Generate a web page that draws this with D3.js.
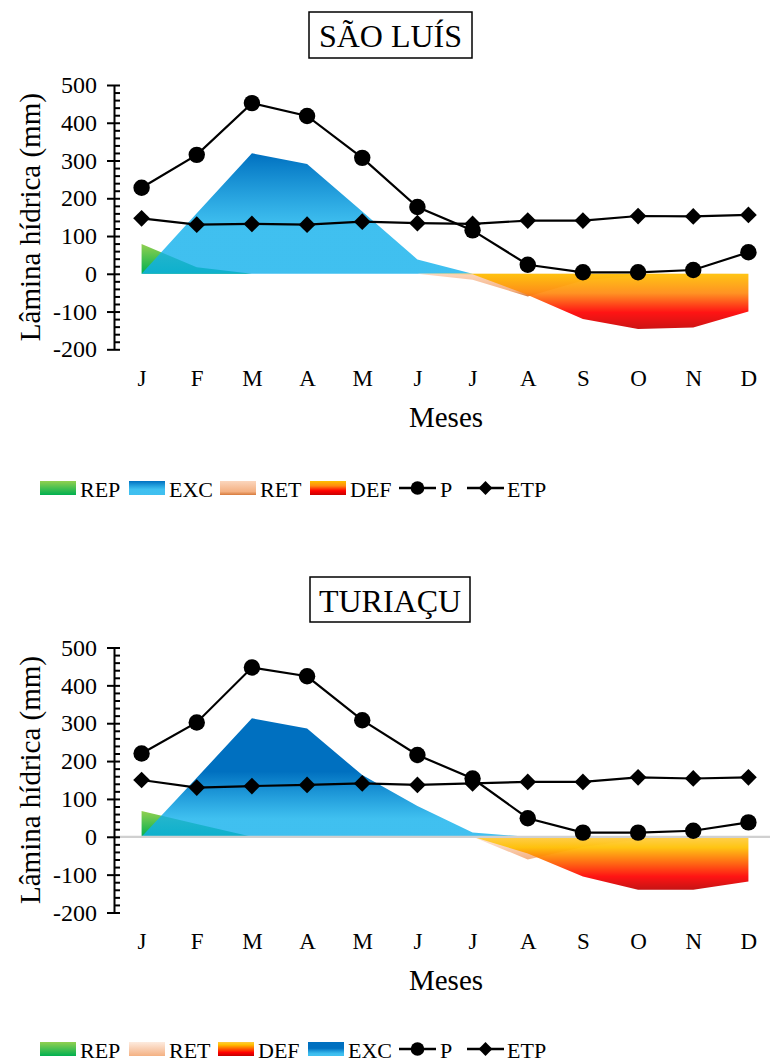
<!DOCTYPE html>
<html>
<head>
<meta charset="utf-8">
<script src="https://cdn.jsdelivr.net/npm/d3@7"></script>
<style>
  html, body { margin: 0; padding: 0; background: #fff; }
  svg { display: block; }
  text { font-family: "Liberation Serif", "Times New Roman", serif; fill: #000; }
</style>
</head>
<body>
<svg id="chart" width="770" height="1064"></svg>
<script>
// Month initials (x categories)
const months = ["J", "F", "M", "A", "M", "J", "J", "A", "S", "O", "N", "D"];
const yMajor = [500, 400, 300, 200, 100, 0, -100, -200];
const yMinor = d3.range(-200, 501, 20);

// São Luís water balance (mm)
const slP   = [228, 315, 452, 418, 307, 177, 115, 24, 4, 4, 10, 57];
const slETP = [147, 130, 132, 130, 138, 134, 132, 141, 141, 153, 152, 156];
const slREP = [79, 17, 0, 0, 0, 0, 0, 0, 0, 0, 0, 0];
const slEXC = [0, 160, 319, 291, 165, 38, 0, 0, 0, 0, 0, 0];
const slRET = [0, 0, 0, 0, 0, 0, -16, -60, -18, -4, -1, 0];
const slDEF = [0, 0, 0, 0, 0, 0, -1, -56, -120, -146, -142, -100];

// Turiaçu water balance (mm)
const tuP   = [220, 302, 447, 424, 308, 216, 154, 49, 11, 11, 16, 38];
const tuETP = [150, 130, 134, 137, 141, 137, 141, 145, 145, 157, 154, 157];
const tuREP = [68, 34, 0, 0, 0, 0, 0, 0, 0, 0, 0, 0];
const tuEXC = [0, 156, 313, 286, 163, 81, 11, 0, 0, 0, 0, 0];
const tuRET = [0, 0, 0, 0, 0, 0, 0, -60, -27, -7, -2, 0];
const tuDEF = [0, 0, 0, 0, 0, 0, 0, -44, -105, -140, -140, -118];

const svg = d3.select("#chart");
const defs = svg.append("defs");

function gradient(id, stops) {
  const g = defs.append("linearGradient").attr("id", id)
    .attr("x1", 0).attr("y1", 0).attr("x2", 0).attr("y2", 1);
  stops.forEach(s => g.append("stop")
    .attr("offset", s[0]).attr("stop-color", s[1])
    .attr("stop-opacity", s[2] === undefined ? 1 : s[2]));
}

gradient("rep", [[0, "#92d050"], [1, "#00b050"]]);
gradient("exc1", [[0, "#0070c0"], [0.6, "#10b0ec", 0.8], [1, "#10b0ec", 0.8]]);
gradient("exc2", [[0, "#0070c0"], [0.45, "#0070c0"], [0.85, "#10b0ec", 0.8], [1, "#10b0ec", 0.8]]);
gradient("ret1", [[0, "#fbd6bd"], [0.75, "#f4b183"], [1, "#d67a3c"]]);
gradient("ret2", [[0, "#fdebdf"], [1, "#f4b183"]]);
gradient("def1", [[0, "#ffc000"], [0.35, "#ff8a10"], [0.7, "#ff0000"], [1, "#c80000"]]);
gradient("def2", [[0, "#ffcc40"], [0.2, "#ffc000"], [0.5, "#ff5a00"], [0.75, "#ff0000"], [1, "#c00000"]]);

function drawChart(cfg) {
  const g = svg.append("g");
  const x = d3.scalePoint().domain(d3.range(months.length)).range([114, 776]).padding(0.5);
  const y = d3.scaleLinear().domain([-200, 500]).range([cfg.bottom, cfg.top]);

  // Title box
  const tb = g.append("g");
  tb.append("rect").attr("x", cfg.box[0]).attr("y", cfg.box[1])
    .attr("width", cfg.box[2]).attr("height", cfg.box[3])
    .attr("fill", "#fff").attr("stroke", "#000").attr("stroke-width", 1.5);
  tb.append("text").attr("x", cfg.box[0] + cfg.box[2] / 2).attr("y", cfg.box[1] + cfg.box[3] / 2 + 1)
    .attr("text-anchor", "middle").attr("dominant-baseline", "central")
    .style("font-size", "32px").text(cfg.title);

  // Areas
  const area = d3.area().x((d, i) => x(i)).y0(y(0)).y1(d => y(d));
  cfg.areas.forEach(a => {
    g.append("path").datum(a.values).attr("d", area)
      .attr("fill", `url(#${a.grad})`).attr("fill-opacity", a.opacity || 1);
  });

  if (cfg.zeroLine) {
    g.append("line").attr("x1", 114).attr("x2", 776)
      .attr("y1", y(0)).attr("y2", y(0))
      .attr("stroke", "#d0d0d0").attr("stroke-width", 2.2);
  }

  // Y axis: outer major ticks with labels, inner minor ticks
  const ya = g.append("g").attr("transform", "translate(114,0)")
    .call(d3.axisLeft(y).tickValues(yMajor).tickSize(7).tickSizeOuter(0).tickPadding(10)
      .tickFormat(d => String(d)));
  ya.select(".domain").attr("stroke", "#000").attr("stroke-width", 2);
  ya.selectAll(".tick line").attr("stroke", "#000").attr("stroke-width", 2);
  ya.selectAll(".tick text").style("font-size", "24px")
    .style("font-family", "'Liberation Serif', serif");
  const yi = g.append("g").attr("transform", "translate(114,0)")
    .call(d3.axisRight(y).tickValues(yMinor).tickSize(6).tickSizeOuter(0).tickFormat(""));
  yi.select(".domain").remove();
  yi.selectAll(".tick line").attr("stroke", "#000").attr("stroke-width", 2);

  // X axis labels
  const xa = g.append("g").attr("transform", `translate(0,${cfg.monthY})`)
    .call(d3.axisBottom(x).tickSize(0).tickPadding(0).tickFormat(i => months[i]));
  xa.select(".domain").remove();
  xa.selectAll(".tick text").attr("dy", null).attr("y", 0)
    .attr("dominant-baseline", "central")
    .style("font-size", "23px").style("font-family", "'Liberation Serif', serif");

  // Axis titles
  g.append("text").attr("x", 446).attr("y", cfg.monthY + 39)
    .attr("text-anchor", "middle").attr("dominant-baseline", "central")
    .style("font-size", "29px").text("Meses");
  g.append("text")
    .attr("transform", `translate(30,${(cfg.top + cfg.bottom) / 2}) rotate(-90)`)
    .attr("text-anchor", "middle").attr("dominant-baseline", "central")
    .style("font-size", "29px").text("Lâmina hídrica (mm)");

  // Lines with markers
  const line = d3.line().x((d, i) => x(i)).y(d => y(d));
  g.append("path").datum(cfg.etp).attr("d", line)
    .attr("fill", "none").attr("stroke", "#000").attr("stroke-width", 2.2);
  g.append("path").datum(cfg.p).attr("d", line)
    .attr("fill", "none").attr("stroke", "#000").attr("stroke-width", 2.2);
  const diamond = d3.symbol().type(d3.symbolSquare).size(140);
  g.selectAll(".etp").data(cfg.etp).join("path")
    .attr("transform", (d, i) => `translate(${x(i)},${y(d)}) rotate(45)`)
    .attr("d", diamond).attr("fill", "#000");
  g.selectAll(".pc").data(cfg.p).join("circle")
    .attr("cx", (d, i) => x(i)).attr("cy", d => y(d)).attr("r", 8.2).attr("fill", "#000");

  // Legend
  const lg = g.append("g").attr("transform", `translate(0,${cfg.legendY})`);
  cfg.legend.forEach(it => {
    if (it.grad) {
      lg.append("rect").attr("x", it.x).attr("y", -7).attr("width", 36).attr("height", 14)
        .attr("fill", `url(#${it.grad})`);
    } else {
      lg.append("line").attr("x1", it.x).attr("x2", it.x + 37).attr("y1", 0).attr("y2", 0)
        .attr("stroke", "#000").attr("stroke-width", 2.5);
      if (it.marker === "circle") {
        lg.append("circle").attr("cx", it.x + 18.5).attr("cy", 0).attr("r", 6.8).attr("fill", "#000");
      } else {
        lg.append("path").attr("transform", `translate(${it.x + 18.5},0) rotate(45)`)
          .attr("d", d3.symbol().type(d3.symbolSquare).size(95)).attr("fill", "#000");
      }
    }
    lg.append("text").attr("x", it.tx).attr("y", 1)
      .attr("dominant-baseline", "central").style("font-size", "22px").text(it.label);
  });
}

drawChart({
  title: "SÃO LUÍS", box: [309, 12, 163, 46],
  top: 85, bottom: 349.3, monthY: 378, legendY: 488, zeroLine: false,
  p: slP, etp: slETP,
  areas: [
    { values: slREP, grad: "rep" },
    { values: slEXC, grad: "exc1" },
    { values: slRET, grad: "ret1" },
    { values: slDEF, grad: "def1", opacity: 0.92 }
  ],
  legend: [
    { x: 40, tx: 80, label: "REP", grad: "rep" },
    { x: 129, tx: 169, label: "EXC", grad: "exc1" },
    { x: 220, tx: 260, label: "RET", grad: "ret1" },
    { x: 310, tx: 350, label: "DEF", grad: "def1" },
    { x: 399, tx: 440, label: "P", marker: "circle" },
    { x: 467, tx: 507, label: "ETP", marker: "diamond" }
  ]
});

drawChart({
  title: "TURIAÇU", box: [310, 577, 160, 45],
  top: 647.5, bottom: 912.5, monthY: 941, legendY: 1049, zeroLine: true,
  p: tuP, etp: tuETP,
  areas: [
    { values: tuREP, grad: "rep" },
    { values: tuRET, grad: "ret2" },
    { values: tuDEF, grad: "def2", opacity: 0.92 },
    { values: tuEXC, grad: "exc2" }
  ],
  legend: [
    { x: 40, tx: 80, label: "REP", grad: "rep" },
    { x: 129, tx: 169, label: "RET", grad: "ret2" },
    { x: 218, tx: 258, label: "DEF", grad: "def2" },
    { x: 308, tx: 348, label: "EXC", grad: "exc2" },
    { x: 399, tx: 440, label: "P", marker: "circle" },
    { x: 467, tx: 507, label: "ETP", marker: "diamond" }
  ]
});
</script>
</body>
</html>
